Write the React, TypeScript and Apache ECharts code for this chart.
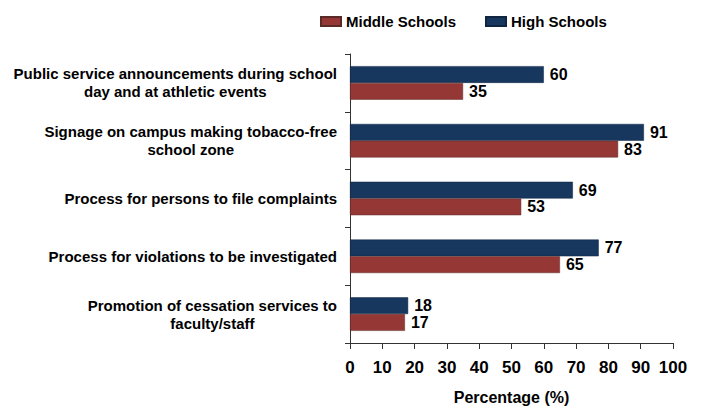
import React, { useEffect, useRef } from "react";
import * as echarts from "echarts";

const categories = [
  "Public service announcements during school\nday and at athletic events",
  "Signage on campus making tobacco-free\nschool zone",
  "Process for persons to file complaints",
  "Process for violations to be investigated",
  "Promotion of cessation services to\nfaculty/staff",
];
const middleSchools = [35, 83, 53, 65, 17];
const highSchools = [60, 91, 69, 77, 18];
const seriesNames = ["Middle Schools", "High Schools"];

const FONT = "'Liberation Sans', Arial, sans-serif";

export default function App() {
  const ref = useRef<HTMLDivElement>(null);
  useEffect(() => {
    if (!ref.current) return;
    const chart = echarts.init(ref.current, undefined, { renderer: "svg" });
    const labelStyle = {
      show: true,
      position: "right" as const,
      distance: 6,
      color: "#000",
      fontFamily: FONT,
      fontWeight: "bold" as const,
      fontSize: 16,
    };
    chart.setOption({
      animation: false,
      backgroundColor: "#fff",
      textStyle: { fontFamily: FONT },
      legend: {
        data: seriesNames,
        top: 9,
        left: 315,
        itemWidth: 20,
        itemHeight: 9,
        itemGap: 29,
        icon: "rect",
        textStyle: { fontFamily: FONT, fontWeight: "bold", fontSize: 15, color: "#000" },
      },
      grid: { left: 350, right: 33, top: 54, bottom: 63, containLabel: false, outerBoundsMode: "none" },
      xAxis: {
        type: "value",
        min: 0,
        max: 100,
        interval: 10,
        name: "Percentage (%)",
        nameLocation: "middle",
        nameGap: 46,
        nameTextStyle: { fontFamily: FONT, fontWeight: "bold", fontSize: 16, color: "#000" },
        axisLine: { show: true, lineStyle: { color: "#333", width: 1 } },
        axisTick: { show: true, length: 6, lineStyle: { color: "#333" } },
        axisLabel: { fontFamily: FONT, fontWeight: "bold", fontSize: 17, color: "#000", margin: 16 },
        splitLine: { show: false },
      },
      yAxis: {
        type: "category",
        inverse: true,
        data: categories,
        axisLine: { show: true, lineStyle: { color: "#333", width: 1 } },
        axisTick: { show: true, length: 5, lineStyle: { color: "#333" } },
        axisLabel: {
          margin: 13,
          align: "right",
          formatter: (v: string) => v.split("\n").map((s) => `{a|${s}}`).join("\n"),
          rich: {
            a: {
              align: "center",
              fontFamily: FONT,
              fontWeight: "bold",
              fontSize: 15,
              color: "#000",
              lineHeight: 18,
            },
          },
        },
      },
      series: [
        {
          name: seriesNames[1],
          type: "bar",
          data: highSchools,
          barGap: "0%",
          barCategoryGap: "42%",
          itemStyle: { color: "#17375e", borderColor: "#0f2540", borderWidth: 0.5 },
          label: labelStyle,
        },
        {
          name: seriesNames[0],
          type: "bar",
          data: middleSchools,
          barGap: "0%",
          barCategoryGap: "42%",
          itemStyle: { color: "#953735", borderColor: "#5a2a28", borderWidth: 0.5 },
          label: labelStyle,
        },
      ],
    });
    return () => chart.dispose();
  }, []);
  return <div ref={ref} style={{ width: 706, height: 406, position: "absolute", left: 0, top: 0 }} />;
}
